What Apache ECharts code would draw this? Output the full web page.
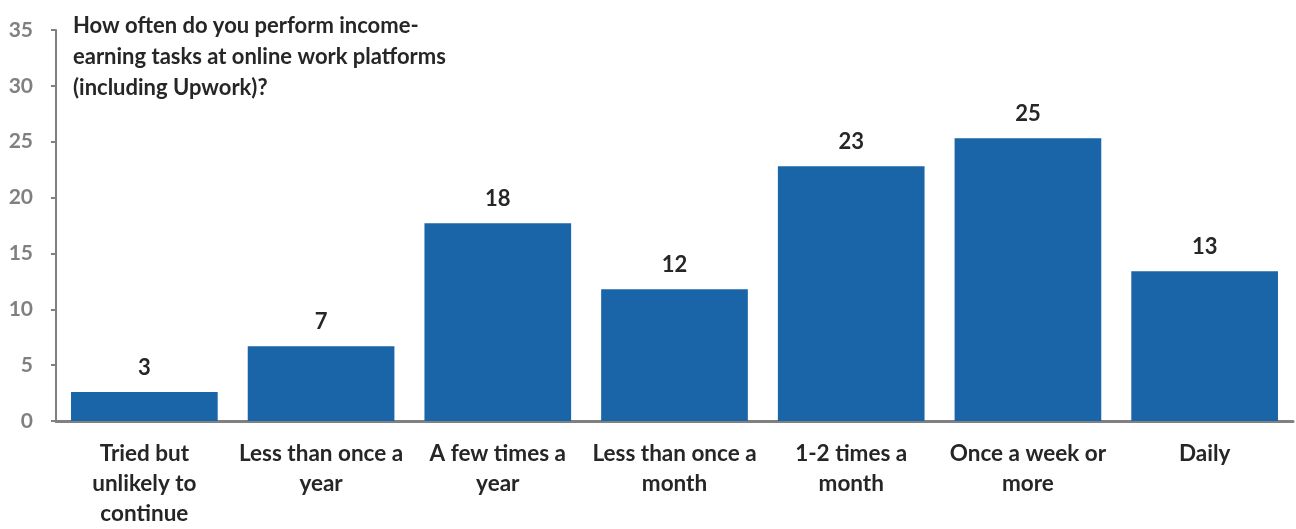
<!DOCTYPE html>
<html>
<head>
<meta charset="utf-8">
<script src="https://cdn.jsdelivr.net/npm/echarts@6/dist/echarts.min.js"></script>
<style>
html,body{margin:0;padding:0;background:#fff;}
#chart{width:1296px;height:529px;}
</style>
</head>
<body>
<div id="chart"></div>
<script>
const categories = [
  "Tried but\nunlikely to\ncontinue",
  "Less than once a\nyear",
  "A few times a\nyear",
  "Less than once a\nmonth",
  "1-2 times a\nmonth",
  "Once a week or\nmore",
  "Daily"
];
const values = [2.6, 6.7, 17.7, 11.8, 22.8, 25.3, 13.4];
const titleText = "How often do you perform income-\nearning tasks at online work platforms\n(including Upwork)?";

const FONT = "Lato, 'Open Sans', sans-serif";
const chart = echarts.init(document.getElementById('chart'), null, {renderer: 'canvas'});
chart.setOption({
  animation: false,
  backgroundColor: '#fff',
  title: {
    text: titleText,
    left: 68, top: 5,
    textStyle: {fontFamily: FONT, fontWeight: 'bold', fontSize: 22, color: '#262626', lineHeight: 31}
  },
  grid: {left: 56, right: 3, top: 30, bottom: 108, containLabel: false},
  xAxis: {
    type: 'category',
    data: categories,
    axisLine: {show: true, lineStyle: {color: '#808080', width: 3}},
    axisTick: {show: false},
    axisLabel: {
      interval: 0, margin: 18,
      fontFamily: FONT, fontWeight: 'bold', fontSize: 22.5, color: '#262626', lineHeight: 30
    }
  },
  yAxis: {
    type: 'value', min: 0, max: 35, interval: 5,
    splitLine: {show: false},
    axisLine: {show: true, lineStyle: {color: '#808080', width: 2}},
    axisTick: {show: true, inside: false, length: 5, lineStyle: {color: '#808080', width: 2}},
    axisLabel: {margin: 23, fontFamily: FONT, fontWeight: 'bold', fontSize: 21, color: '#808080'}
  },
  series: [{
    type: 'bar',
    data: values,
    barCategoryGap: '17%',
    itemStyle: {color: '#1a64a8'},
    label: {
      show: true, position: 'top', distance: 13,
      formatter: p => Math.round(p.value),
      fontFamily: FONT, fontWeight: 'bold', fontSize: 22, color: '#262626'
    }
  }]
});
</script>
</body>
</html>
